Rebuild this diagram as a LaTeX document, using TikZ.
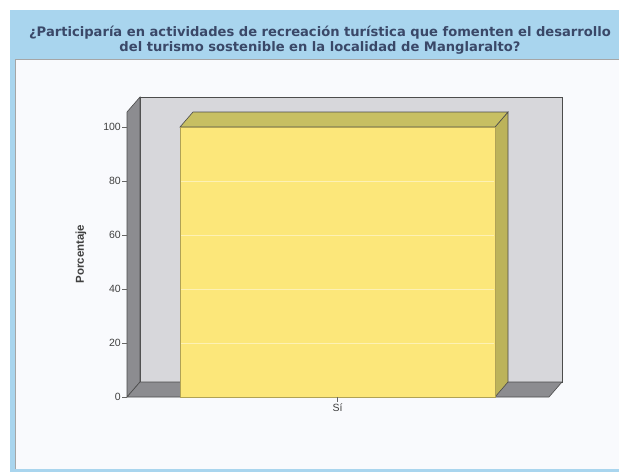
\documentclass[tikz,border=0pt]{standalone}
\usepackage{fontspec}
\setmainfont{Liberation Sans}
\newfontfamily\ttlfont{DejaVu Sans}
\definecolor{hdr}{HTML}{A9D5EE}
\definecolor{panel}{HTML}{F9FAFD}
\definecolor{wall}{HTML}{D7D7DB}
\definecolor{side}{HTML}{8C8C90}
\definecolor{barf}{HTML}{FCE77A}
\definecolor{bartop}{HTML}{C7BF62}
\definecolor{barside}{HTML}{BCB35A}
\definecolor{ttl}{HTML}{3A4868}
\definecolor{axt}{HTML}{404040}
\begin{document}
\begin{tikzpicture}[x=1pt,y=-1pt,
  edge/.style={draw=black!70,line width=0.6pt},
  ticklbl/.style={anchor=east,font=\fontsize{10.5}{11}\selectfont,text=axt,inner sep=1pt},
  grid/.style={white,opacity=0.45,line width=0.8pt}]
\useasboundingbox (0,0) rectangle (619,475);
\fill[white] (0,0) rectangle (619,475);
% frame
\fill[hdr] (10,10) rectangle (619,472);
\fill[panel] (15,59) rectangle (619,469);
\draw[black!35,line width=0.6pt] (15,469) -- (15,59) -- (619,59);
% title
\node[font=\ttlfont\fontsize{13.1}{15}\selectfont\bfseries,text=ttl,align=center,inner sep=0pt] (title) at (320,40)
  {¿Participaría en actividades de recreación turística que fomenten el desarrollo\\del turismo sostenible en la localidad de Manglaralto?};
% back wall
\filldraw[fill=wall,edge] (140,97) rectangle (562,382);
% side wall
\filldraw[fill=side,edge] (127,112) -- (140,97) -- (140,382) -- (127,397) -- cycle;
% floor
\filldraw[fill=side,edge] (127,397) -- (140,382) -- (562,382) -- (549,397) -- cycle;
% bar
\filldraw[fill=barside,edge] (495,127) -- (508,112) -- (508,382) -- (495,397) -- cycle;
\filldraw[fill=bartop,edge] (180,127) -- (193,112) -- (508,112) -- (495,127) -- cycle;
\filldraw[fill=barf,draw=barf!70!black,line width=0.5pt] (180,127) rectangle (495,397);
\foreach \yy in {181,235,289,343} \draw[grid] (181,\yy) -- (494,\yy);
% axis ticks
\foreach \v/\yy in {0/397,20/343,40/289,60/235,80/181,100/127}{
  \draw[black!60,line width=0.6pt] (122,\yy) -- (127,\yy);
  \node[ticklbl] (t\v) at (122,\yy) {\v};
}
\draw[black!60,line width=0.6pt] (337.5,397) -- (337.5,402);
\node[font=\fontsize{10.5}{11}\selectfont,text=axt,anchor=north,inner sep=1pt] (si) at (337.5,403) {Sí};
\node[font=\fontsize{11.5}{12}\selectfont\bfseries,text=axt,rotate=90] (ylab) at (81,254) {Porcentaje};
\end{tikzpicture}
\end{document}
